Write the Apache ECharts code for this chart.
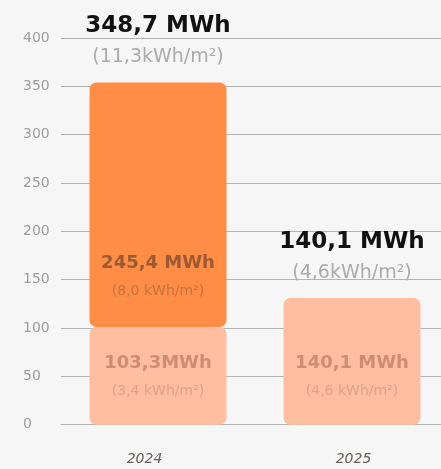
<!DOCTYPE html>
<html><head><meta charset="utf-8">
<script src="https://cdn.jsdelivr.net/npm/echarts@6/dist/echarts.min.js"></script>
<style>html,body{margin:0;padding:0;background:#f6f6f6}#c{width:441px;height:469px}</style>
</head><body><div id="c"></div>
<script>
const categories = ['2024', '2025'];
const baseValues = [101, 131];
const extraValues = [253, null];
const totalValues = [354, 131];
const baseMain = ['103,3MWh', '140,1 MWh'];
const baseSub = ['(3,4 kWh/m²)', '(4,6 kWh/m²)'];
const extraMain = ['245,4 MWh', ''];
const extraSub = ['(8,0 kWh/m²)', ''];
const totalMain = ['348,7 MWh', '140,1 MWh'];
const totalSub = ['(11,3kWh/m²)', '(4,6kWh/m²)'];
const yTicks = [0, 50, 100, 150, 200, 250, 300, 350, 400];

const FONT = 'DejaVu Sans';
const chart = echarts.init(document.getElementById('c'), null, {renderer: 'canvas'});
chart.setOption({
  backgroundColor: '#f6f6f6',
  animation: false,
  textStyle: {fontFamily: FONT},
  grid: {left: 61, right: -8, top: 38, bottom: 44.3, containLabel: false, outerBoundsMode: 'none'},
  xAxis: {
    type: 'category', data: categories,
    axisLine: {lineStyle: {color: '#b4b4b4', width: 1}},
    axisTick: {show: false},
    axisLabel: {
      margin: 28,
      formatter: (v, i) => i === 0 ? '{a|' + v + '}' : '{b|' + v + '}',
      rich: {
        a: {fontFamily: FONT, fontStyle: 'italic', fontSize: 14, color: '#6a5f5f', padding: [0, 27, 0, 0]},
        b: {fontFamily: FONT, fontStyle: 'italic', fontSize: 14, color: '#6a5f5f', padding: [0, 0, 0, 3]}
      }
    }
  },
  yAxis: {
    type: 'value', min: yTicks[0], max: yTicks[yTicks.length - 1], interval: 50,
    axisLine: {show: false}, axisTick: {show: false},
    splitLine: {lineStyle: {color: '#b4b4b4', width: 1}},
    axisLabel: {align: 'left', margin: 38, fontSize: 14, color: '#9e9e9e', fontFamily: FONT}
  },
  series: [
    {
      type: 'bar', stack: 'e', barWidth: 137, data: baseValues,
      itemStyle: {color: '#ffbea0', borderRadius: 7},
      label: {
        show: true, position: 'insideBottom', distance: 20,
        formatter: p => '{m|' + baseMain[p.dataIndex] + '}\n{s|' + baseSub[p.dataIndex] + '}',
        rich: {
          m: {fontFamily: FONT, fontWeight: 'bold', fontSize: 18, color: '#d08c72', lineHeight: 30, align: 'center'},
          s: {fontFamily: FONT, fontSize: 14, color: '#e0a388', lineHeight: 26, align: 'center'}
        }
      }
    },
    {
      type: 'bar', stack: 'e', barWidth: 137, data: extraValues,
      itemStyle: {color: '#ff8d45', borderRadius: 7},
      label: {
        show: true, position: 'insideBottom', distance: 23,
        formatter: p => '{m|' + extraMain[p.dataIndex] + '}\n{s|' + extraSub[p.dataIndex] + '}',
        rich: {
          m: {fontFamily: FONT, fontWeight: 'bold', fontSize: 18, color: '#9b5a32', lineHeight: 30, align: 'center'},
          s: {fontFamily: FONT, fontSize: 14, color: '#c27440', lineHeight: 26, align: 'center'}
        }
      }
    },
    {
      type: 'scatter', data: totalValues, symbolSize: 0, silent: true,
      itemStyle: {opacity: 1},
      label: {
        show: true, position: 'top', distance: 10, opacity: 1,
        formatter: p => '{m|' + totalMain[p.dataIndex] + '}\n{s|' + totalSub[p.dataIndex] + '}',
        rich: {
          m: {fontFamily: FONT, fontWeight: 'bold', fontSize: 23, color: '#111111', lineHeight: 33, align: 'center'},
          s: {fontFamily: FONT, fontSize: 19, color: '#ababab', lineHeight: 30, align: 'center'}
        }
      }
    }
  ]
});
</script></body></html>
